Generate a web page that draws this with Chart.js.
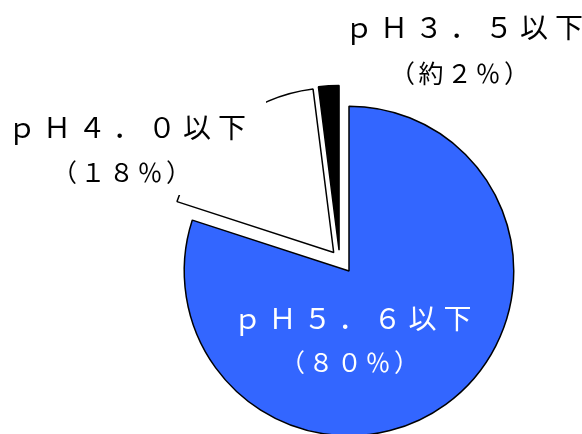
<!DOCTYPE html>
<html>
<head>
<meta charset="utf-8">
<script src="https://cdn.jsdelivr.net/npm/chart.js@4"></script>
<style>
	html, body { margin: 0; padding: 0; background: #fff; overflow: hidden; }
	#wrap { width: 582px; height: 434px; overflow: hidden; }
</style>
</head>
<body>
<div id="wrap"><canvas id="myChart1" width="582" height="450"></canvas></div>
<script>
// 酸性雨の割合
var labels = ['ｐＨ５．６以下', 'ｐＨ４．０以下', 'ｐＨ３．５以下'];
var values = [80, 18, 2];
var pctLabels = ['（８０％）', '（１８％）', '（約２％）'];
var colors = ['#3366ff', '#ffffff', '#000000'];

// slice explode (px along mid angle, extra turn in degrees)
var explode = [0, 24, 23];
var explodeTurn = [0, 0, -22];

var explodePlugin = {
	id: 'explode',
	afterDatasetUpdate: function(chart, args) {
		var meta = args.meta;
		meta.data.forEach(function(arc, i) {
			var d = explode[i] || 0;
			if (!d) return;
			var mid = (arc.startAngle + arc.endAngle) / 2 + (explodeTurn[i] || 0) * Math.PI / 180;
			arc.x += Math.cos(mid) * d;
			arc.y += Math.sin(mid) * d;
		});
	}
};

// label positions relative to pie centre: [main x, main y, sub x, sub y]
var labelPos = [[3.5, 47, 0.5, 91], [-222, -144, -227.5, -99], [115, -244, 110.5, -198]];
var labelColor = ['#ffffff', '#000000', '#000000'];
// white text box behind a label (covers the slice edge), relative to pie centre
var labelBox = [null, [-349, -180, -83, -76], null];

function drawText(ctx, str, x, y, font, spacing) {
	ctx.font = font;
	ctx.letterSpacing = spacing + 'px';
	ctx.fillText(str, x + spacing / 2, y);
}

var labelPlugin = {
	id: 'sliceLabels',
	afterDraw: function(chart) {
		var ctx = chart.ctx;
		var area = chart.chartArea;
		var cx = (area.left + area.right) / 2;
		var cy = (area.top + area.bottom) / 2;
		ctx.save();
		ctx.textAlign = 'center';
		ctx.textBaseline = 'middle';
		for (var i = 0; i < labels.length; i++) {
			var p = labelPos[i];
			var b = labelBox[i];
			if (b) {
				ctx.fillStyle = '#ffffff';
				ctx.fillRect(cx + b[0], cy + b[1], b[2] - b[0], b[3] - b[1]);
			}
			ctx.fillStyle = labelColor[i];
			drawText(ctx, labels[i], cx + p[0], cy + p[1], "28px 'Noto Sans CJK JP'", 7);
			drawText(ctx, pctLabels[i], cx + p[2], cy + p[3], "25px 'Noto Sans CJK JP'", 3.5);
		}
		ctx.restore();
	}
};

var ctx = document.getElementById("myChart1").getContext("2d");
window.myPie = new Chart(ctx, {
	type: 'pie',
	data: {
		labels: labels,
		datasets: [{
			data: values,
			backgroundColor: colors,
			borderColor: '#000000',
			borderWidth: 1.5
		}]
	},
	options: {
		responsive: false,
		animation: false,
		events: [],
		layout: {
			padding: { left: 183.5, right: 67.5, top: 105.5, bottom: 13.5 }
		},
		plugins: {
			legend: { display: false },
			tooltip: { enabled: false }
		}
	},
	plugins: [explodePlugin, labelPlugin]
});
</script>
</body>
</html>
